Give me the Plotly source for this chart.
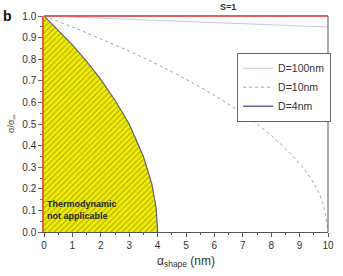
import plotly.graph_objects as go

# Data
alpha_d4 = [0, 0.5, 1.0, 1.5, 2.0, 2.5, 3.0, 3.5, 3.8, 3.95, 4.0]
ratio_d4 = [1.0, 0.935, 0.866, 0.79, 0.707, 0.61, 0.5, 0.35, 0.22, 0.11, 0.0]

alpha_d10 = [0, 1, 2, 3, 4, 5, 6, 7, 8, 9, 9.5, 9.8, 10]
ratio_d10 = [1.0, 0.949, 0.894, 0.837, 0.775, 0.707, 0.632, 0.548, 0.447, 0.316, 0.224, 0.141, 0.0]

alpha_d100 = [0, 1, 2, 3, 4, 5, 6, 7, 8, 9, 10]
ratio_d100 = [1.0, 0.995, 0.990, 0.985, 0.980, 0.975, 0.970, 0.964, 0.959, 0.954, 0.949]

x_ticks = [0, 1, 2, 3, 4, 5, 6, 7, 8, 9, 10]
y_ticks = [0.0, 0.1, 0.2, 0.3, 0.4, 0.5, 0.6, 0.7, 0.8, 0.9, 1.0]
legend_names = ["D=100nm", "D=10nm", "D=4nm"]

fig = go.Figure()

# Hatched region (D=4nm)
fig.add_trace(go.Scatter(
    x=alpha_d4, y=ratio_d4, mode="lines", fill="tozeroy",
    fillpattern=dict(shape="/", bgcolor="#f4ef00", fgcolor="#6e6e10", size=4, solidity=0.3),
    line=dict(color="#606070", width=1.2), showlegend=False, hoverinfo="skip"))

fig.add_trace(go.Scatter(x=alpha_d100, y=ratio_d100, mode="lines", name=legend_names[0],
                         line=dict(color="#c2c8dc", width=1)))
fig.add_trace(go.Scatter(x=alpha_d10, y=ratio_d10, mode="lines", name=legend_names[1],
                         line=dict(color="#999999", width=0.9, dash="dot"), line_shape="spline"))
fig.add_trace(go.Scatter(x=[None], y=[None], mode="lines", name=legend_names[2],
                         line=dict(color="#6a6a9a", width=1.5)))

fig.update_layout(
    width=343, height=276,
    margin=dict(l=44, r=9, t=16, b=44),
    paper_bgcolor="white", plot_bgcolor="white",
    font=dict(family="Liberation Sans, Arial, sans-serif", color="#333", size=10),
    showlegend=True,
    legend=dict(x=0.68, y=0.83, xanchor="left", yanchor="top",
                bgcolor="white", bordercolor="#666", borderwidth=1,
                font=dict(size=10.5, color="#333"), tracegroupgap=0,
                itemwidth=30),
    title=dict(text="<b>S=1</b>", x=0.665, xanchor="center", y=0.985, yanchor="top",
               font=dict(size=9, color="#333")),
    xaxis=dict(range=[0, 10], tickvals=x_ticks, showgrid=False, zeroline=False,
               showline=True, linecolor="#555", linewidth=1,
               ticks="outside", ticklen=4, tickcolor="#555",
               minor=dict(ticks="outside", ticklen=2, dtick=0.5, tickcolor="#555"),
               tickfont=dict(size=10, color="#333"),
               title=dict(text="α<sub>shape</sub> (nm)", font=dict(size=12, color="#333"), standoff=6)),
    yaxis=dict(range=[0, 1], tickvals=y_ticks, tickformat=".1f", showgrid=False, zeroline=False,
               showline=True, linecolor="#e06048", linewidth=1.5,
               ticks="outside", ticklen=4, tickcolor="#666",
               minor=dict(ticks="outside", ticklen=2, dtick=0.05, tickcolor="#666"),
               tickfont=dict(size=10, color="#333"),
               title=dict(text="σ/σ<sub>∞</sub>", font=dict(size=9, color="#555"), standoff=6)),
)

# top red line and right border
fig.add_shape(type="line", xref="paper", yref="paper", x0=0, x1=1, y0=1, y1=1,
              line=dict(color="#e06060", width=2))
fig.add_shape(type="line", xref="paper", yref="paper", x0=1, x1=1, y0=0, y1=1,
              line=dict(color="#555", width=1))

fig.add_annotation(x=0.02, y=0.1, xref="x", yref="y", xanchor="left", yanchor="middle",
                   text="<b>Thermodynamic<br>not applicable</b>", showarrow=False, align="left",
                   font=dict(size=9, color="#222"))
fig.add_annotation(x=-44/290, y=1.0, xref="paper", yref="paper", xanchor="left", yanchor="middle",
                   xshift=0, text="<b>b</b>", showarrow=False, font=dict(size=14, color="#111"))

fig.write_html("out.html")
